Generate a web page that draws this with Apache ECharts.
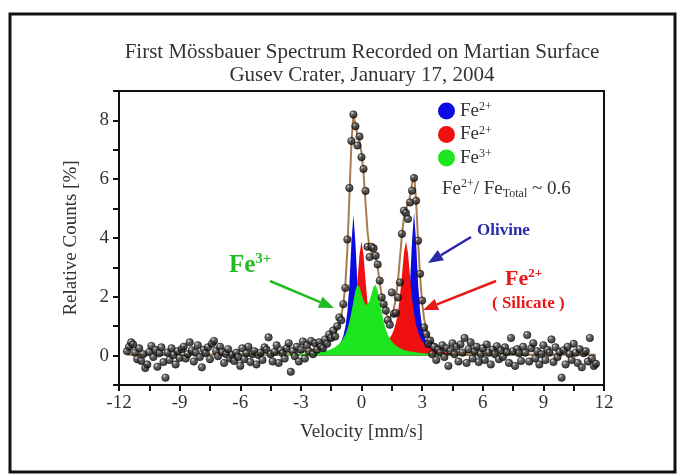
<!DOCTYPE html>
<html>
<head>
<meta charset="utf-8">
<script src="https://cdn.jsdelivr.net/npm/echarts@6/dist/echarts.min.js"></script>
<style>html,body{margin:0;padding:0;background:#fff;}#c{width:678px;height:476px;}</style>
</head>
<body>
<div id="c"></div>
<script>
// ---- data ----
const titleLines = ['First M\u00f6ssbauer Spectrum Recorded on Martian Surface', 'Gusev Crater, January 17, 2004'];
const xTitle = 'Velocity [mm/s]';
const yTitle = 'Relative Counts [%]';

// measured spectrum: [velocity mm/s, relative counts %]
const counts = [
[-11.6,0.15],[-11.5,0.30],[-11.4,0.45],[-11.3,0.38],[-11.2,0.10],[-11.1,-0.12],[-11.0,0.25],
[-10.9,-0.18],[-10.8,0.05],[-10.7,-0.42],[-10.6,-0.30],[-10.5,0.12],[-10.4,0.33],[-10.3,-0.05],[-10.2,0.20],[-10.1,-0.38],[-10.0,0.08],
[-9.9,0.28],[-9.8,-0.22],[-9.7,-0.75],[-9.6,0.10],[-9.5,-0.15],[-9.4,0.25],[-9.3,0.02],[-9.2,-0.30],[-9.1,0.15],[-9.0,-0.08],
[-8.9,0.22],[-8.8,0.30],[-8.7,-0.10],[-8.6,0.05],[-8.5,0.45],[-8.4,0.18],[-8.3,-0.20],[-8.2,0.10],[-8.1,0.35],[-8.0,-0.05],
[-7.9,-0.40],[-7.8,0.20],[-7.7,0.08],[-7.6,0.28],[-7.5,-0.12],[-7.4,0.40],[-7.3,0.50],[-7.2,0.15],[-7.1,-0.02],[-7.0,0.30],
[-6.9,0.12],[-6.8,-0.25],[-6.7,0.05],[-6.6,0.22],[-6.5,-0.10],[-6.4,0.02],[-6.3,-0.18],[-6.2,0.10],[-6.1,-0.05],[-6.0,-0.35],
[-5.9,0.25],[-5.8,-0.12],[-5.7,0.08],[-5.6,0.30],[-5.5,-0.22],[-5.4,0.05],[-5.3,0.15],[-5.2,-0.30],[-5.1,0.02],[-5.0,0.10],
[-4.9,-0.15],[-4.8,0.28],[-4.7,0.20],[-4.6,0.62],[-4.5,0.05],[-4.4,-0.20],[-4.3,0.12],[-4.2,0.35],[-4.1,-0.25],[-4.0,0.18],
[-3.9,0.08],[-3.8,-0.10],[-3.7,0.25],[-3.6,0.42],[-3.5,-0.55],[-3.4,0.15],[-3.3,-0.02],[-3.2,0.30],[-3.1,-0.20],[-3.0,0.20],
[-2.9,0.48],[-2.8,-0.10],[-2.7,0.35],[-2.6,0.15],[-2.5,0.50],[-2.4,0.05],[-2.3,0.42],[-2.2,0.20],[-2.1,0.45],[-2.0,0.30],
[-1.9,0.25],[-1.8,0.55],[-1.7,0.40],[-1.6,0.72],[-1.5,0.60],[-1.4,0.85],[-1.3,0.65],[-1.2,1.00],[-1.1,1.30],[-1.0,1.20],
[-0.9,1.75],[-0.8,2.30],[-0.7,3.95],[-0.6,5.70],[-0.5,7.30],[-0.4,8.20],[-0.3,7.80],[-0.2,7.15],[-0.1,7.45],[0.0,6.75],
[0.1,6.35],[0.2,5.60],[0.3,3.70],[0.4,3.35],[0.5,3.70],[0.6,3.65],[0.7,3.40],[0.8,3.10],[0.9,2.55],[1.0,1.98],
[1.1,1.75],[1.2,1.53],[1.3,1.20],[1.4,1.05],[1.5,2.15],[1.6,1.42],[1.7,1.45],[1.8,1.98],[1.9,2.49],[2.0,4.14],
[2.1,4.93],[2.2,4.85],[2.3,4.65],[2.4,5.21],[2.5,5.61],[2.6,6.04],[2.7,5.27],[2.8,3.91],[2.9,2.78],[3.0,1.87],
[3.1,0.96],[3.2,0.73],[3.3,0.40],[3.4,0.51],[3.5,0.05],[3.6,0.30],[3.7,-0.15],[3.8,0.20],[3.9,0.10],[4.0,0.35],
[4.1,-0.05],[4.2,0.25],[4.3,-0.35],[4.4,0.15],[4.5,0.42],[4.6,0.05],[4.7,0.30],[4.8,-0.20],[4.9,0.38],[5.0,0.10],
[5.1,0.60],[5.2,-0.25],[5.3,0.22],[5.4,0.45],[5.5,-0.10],[5.6,0.15],[5.7,0.30],[5.8,-0.22],[5.9,0.05],[6.0,0.25],
[6.1,-0.15],[6.2,0.38],[6.3,0.10],[6.4,-0.30],[6.5,0.20],[6.6,0.05],[6.7,0.32],[6.8,-0.12],[6.9,0.18],[7.0,-0.05],
[7.1,0.28],[7.2,0.12],[7.3,-0.25],[7.4,0.60],[7.5,0.15],[7.6,-0.35],[7.7,0.22],[7.8,0.08],[7.9,-0.18],[8.0,0.30],
[8.1,0.10],[8.2,0.70],[8.3,-0.20],[8.4,0.25],[8.5,0.42],[8.6,-0.10],[8.7,0.15],[8.8,-0.30],[8.9,0.05],[9.0,0.35],
[9.1,-0.15],[9.2,0.20],[9.3,0.10],[9.4,0.55],[9.5,-0.22],[9.6,0.28],[9.7,-0.05],[9.8,0.12],[9.9,-0.75],[10.0,0.18],
[10.1,-0.30],[10.2,0.30],[10.3,0.05],[10.4,-0.15],[10.5,0.40],[10.6,0.10],[10.7,-0.25],[10.8,0.22],[10.9,-0.40],[11.0,0.08],
[11.1,0.15],[11.2,-0.20],[11.3,0.60],[11.4,-0.10],[11.5,-0.35],[11.6,-0.28]
];

// fitted envelope
const fitVelocity = [-11.6,-8,-6,-4,-3,-2.5,-2,-1.75,-1.5,-1.4,-1.3,-1.2,-1.1,-1.0,-0.9,-0.8,-0.7,-0.6,-0.5,-0.4,-0.3,-0.2,-0.1,0,
0.1,0.2,0.3,0.4,0.5,0.6,0.7,0.8,0.9,1.0,1.1,1.2,1.3,1.4,1.5,1.6,1.7,1.8,1.9,2.0,2.1,2.2,2.3,2.4,2.5,2.6,2.7,2.8,2.9,3.0,
3.1,3.2,3.3,3.4,3.5,3.75,4,4.5,5,6,8,11.6];
const fitCounts = [0.03,0.04,0.05,0.08,0.12,0.18,0.30,0.40,0.55,0.63,0.75,0.90,1.10,1.35,1.75,2.40,3.60,5.40,7.20,8.20,7.85,7.50,7.30,6.90,
6.20,5.20,4.20,3.65,3.50,3.50,3.35,3.00,2.50,2.05,1.70,1.45,1.32,1.30,1.40,1.60,1.95,2.50,3.30,4.10,4.70,5.00,5.15,5.40,5.85,6.15,5.30,3.90,2.70,1.80,
1.25,0.90,0.70,0.55,0.45,0.30,0.22,0.15,0.10,0.07,0.05,0.03];

// sub-spectra (components)
const compVelocity = [-12,-6,-4,-3,-2.5,-2,-1.75,-1.5,-1.4,-1.3,-1.2,-1.1,-1.0,-0.9,-0.8,-0.7,-0.6,-0.5,-0.4,-0.3,-0.2,-0.1,0,
0.1,0.2,0.3,0.4,0.5,0.6,0.7,0.8,0.9,1.0,1.1,1.2,1.3,1.4,1.5,1.6,1.7,1.8,1.9,2.0,2.1,2.2,2.3,2.4,2.5,2.6,2.7,2.8,2.9,3.0,
3.1,3.2,3.3,3.4,3.5,3.75,4,4.5,5,6,12];
const olivineFe2 = [0,0.01,0.02,0.03,0.05,0.08,0.11,0.16,0.20,0.24,0.29,0.37,0.49,0.67,0.97,1.48,2.40,3.83,4.78,3.83,2.41,1.49,0.98,
0.69,0.51,0.40,0.32,0.27,0.23,0.21,0.19,0.18,0.17,0.17,0.17,0.18,0.19,0.21,0.23,0.27,0.32,0.40,0.52,0.70,1.00,1.52,2.44,3.89,4.86,3.89,2.44,1.51,0.98,
0.68,0.50,0.38,0.30,0.24,0.15,0.11,0.06,0.04,0.02,0];
const silicateFe2 = [0,0.01,0.03,0.04,0.06,0.09,0.11,0.15,0.16,0.19,0.21,0.25,0.29,0.35,0.43,0.54,0.69,0.91,1.25,1.76,2.53,3.42,3.89,
3.44,2.55,1.80,1.30,0.98,0.77,0.64,0.56,0.51,0.49,0.48,0.50,0.54,0.61,0.71,0.87,1.11,1.46,1.99,2.71,3.50,3.88,3.49,2.69,1.95,1.42,1.05,0.80,0.63,0.50,
0.41,0.34,0.29,0.25,0.22,0.16,0.12,0.08,0.05,0.03,0];
const ferricFe3 = [0,0.01,0.03,0.06,0.08,0.13,0.16,0.22,0.25,0.29,0.34,0.40,0.48,0.58,0.71,0.90,1.14,1.47,1.85,2.22,2.41,2.34,2.10,
1.87,1.74,1.74,1.87,2.10,2.34,2.41,2.22,1.85,1.47,1.14,0.90,0.71,0.58,0.48,0.40,0.34,0.29,0.25,0.22,0.19,0.17,0.16,0.14,0.13,0.12,0.11,0.10,0.09,0.08,
0.08,0.07,0.07,0.06,0.06,0.05,0.04,0.04,0.03,0.02,0];

const xTicks = [-12,-9,-6,-3,0,3,6,9,12];
const yTickLabels = [0,2,4,6,8];

// ---- chart ----
const FONT = "'Liberation Serif','DejaVu Serif',serif";
const zip = (xs, ys) => xs.map((x, i) => [x, ys[i]]);
const chart = echarts.init(document.getElementById('c'), null, {renderer: 'canvas'});

const legendNames = {
  'Fe2+ olivine': '{a|Fe}{s|2+}',
  'Fe2+ silicate': '{a|Fe}{s|2+}',
  'Fe3+': '{a|Fe}{s|3+}'
};

function arrow(x1, y1, x2, y2, color) {
  const ang = Math.atan2(y2 - y1, x2 - x1);
  const L = 15, W = 6;
  const bx = x2 - L * Math.cos(ang), by = y2 - L * Math.sin(ang);
  const px = -Math.sin(ang) * W, py = Math.cos(ang) * W;
  return [
    {type: 'line', shape: {x1: x1, y1: y1, x2: bx, y2: by}, style: {stroke: color, lineWidth: 2.5}, z: 100},
    {type: 'polygon', shape: {points: [[x2, y2], [bx + px, by + py], [bx - px, by - py]]}, style: {fill: color}, z: 100}
  ];
}

const option = {
  backgroundColor: '#fff',
  animation: false,
  grid: {left: 119, right: 74, top: 91, bottom: 91, show: true, borderColor: '#111', borderWidth: 2, backgroundColor: 'transparent'},
  legend: {
    data: ['Fe2+ olivine', 'Fe2+ silicate', 'Fe3+'],
    orient: 'vertical', left: 438, top: 101, padding: 0,
    itemWidth: 17, itemHeight: 17, itemGap: 4, icon: 'circle',
    formatter: n => legendNames[n],
    textStyle: {
      rich: {
        a: {fontFamily: FONT, fontSize: 19, color: '#333', lineHeight: 20},
        s: {fontFamily: FONT, fontSize: 12, color: '#333', lineHeight: 20, verticalAlign: 'top', padding: [0,0,6,0]}
      }
    }
  },
  xAxis: {
    type: 'value', min: -12, max: 12, interval: 3,
    name: xTitle, nameLocation: 'middle', nameGap: 38,
    nameTextStyle: {fontFamily: FONT, fontSize: 19, color: '#333'},
    axisLine: {show: true, onZero: false, lineStyle: {color: '#111', width: 2}},
    axisTick: {show: true, inside: false, length: 6, lineStyle: {color: '#111', width: 2}},
    minorTick: {show: true, splitNumber: 2, length: 6, lineStyle: {color: '#111', width: 2}},
    axisLabel: {fontFamily: FONT, fontSize: 19, color: '#333', margin: 9,
      formatter: v => xTicks.indexOf(v) >= 0 ? String(v) : ''},
    splitLine: {show: false}
  },
  yAxis: {
    type: 'value', min: -1, max: 9, interval: 1,
    name: yTitle, nameLocation: 'middle', nameGap: 38, nameRotate: 90,
    nameTextStyle: {fontFamily: FONT, fontSize: 19, color: '#333'},
    axisLine: {show: true, onZero: false, lineStyle: {color: '#111', width: 2}},
    axisTick: {show: true, inside: false, length: 6, lineStyle: {color: '#111', width: 2}},
    axisLabel: {fontFamily: FONT, fontSize: 19, color: '#333', margin: 10,
      formatter: v => yTickLabels.indexOf(v) >= 0 ? String(v) : ''},
    splitLine: {show: false}
  },
  series: [
    {name: 'Fe2+ olivine', type: 'line', data: zip(compVelocity, olivineFe2), symbol: 'none', z: 2,
      color: '#0c0ce0', lineStyle: {width: 0}, areaStyle: {color: '#0c0ce0', opacity: 1}, silent: true},
    {name: 'Fe2+ silicate', type: 'line', data: zip(compVelocity, silicateFe2), symbol: 'none', z: 3,
      color: '#f01010', lineStyle: {width: 0}, areaStyle: {color: '#f01010', opacity: 1}, silent: true},
    {name: 'Fe3+', type: 'line', data: zip(compVelocity, ferricFe3), symbol: 'none', z: 4,
      color: '#1ee61e', lineStyle: {width: 0}, areaStyle: {color: '#1ee61e', opacity: 1}, silent: true},
    {name: 'fit', type: 'line', data: zip(fitVelocity, fitCounts), symbol: 'none', z: 5,
      lineStyle: {color: '#a87c4f', width: 2}, silent: true},
    {name: 'data', type: 'scatter', data: counts, symbol: 'circle', symbolSize: 7.5, z: 6,
      itemStyle: {
        color: {type: 'radial', x: 0.35, y: 0.3, r: 0.75,
          colorStops: [{offset: 0, color: '#d8d8d8'}, {offset: 0.3, color: '#444'}, {offset: 1, color: '#000'}]},
        borderColor: '#000', borderWidth: 0.6
      }, silent: true}
  ],
  graphic: [
    {type: 'rect', shape: {x: 10, y: 14, width: 665, height: 458}, style: {fill: 'none', stroke: '#111', lineWidth: 3}, z: 100},
    {type: 'text', style: {x: 362, y: 52, text: titleLines[0], textAlign: 'center', textVerticalAlign: 'middle', font: "21px " + FONT, fill: '#333'}, z: 100},
    {type: 'text', style: {x: 362, y: 75, text: titleLines[1], textAlign: 'center', textVerticalAlign: 'middle', font: "21px " + FONT, fill: '#333'}, z: 100},
    {type: 'text', style: {x: 442, y: 178, text: '{a|Fe}{s|2+}{a|/ Fe}{b|Total}{a| ~ 0.6}',
      rich: {
        a: {fontFamily: FONT, fontSize: 19, fill: '#333', lineHeight: 22},
        s: {fontFamily: FONT, fontSize: 12, fill: '#333', lineHeight: 22, verticalAlign: 'top', padding: [0,0,8,0]},
        b: {fontFamily: FONT, fontSize: 12, fill: '#333', lineHeight: 22, verticalAlign: 'bottom', padding: [8,0,0,0]}
      }}, z: 100},
    {type: 'text', style: {x: 477, y: 222, text: 'Olivine', font: "bold 17px " + FONT, fill: '#2a2aa8'}, z: 100},
    {type: 'text', style: {x: 229, y: 252, text: '{a|Fe}{s|3+}',
      rich: {
        a: {fontFamily: FONT, fontSize: 25, fontWeight: 'bold', fill: '#22bb22', lineHeight: 28},
        s: {fontFamily: FONT, fontSize: 15, fontWeight: 'bold', fill: '#22bb22', lineHeight: 28, verticalAlign: 'top', padding: [0,0,10,0]}
      }}, z: 100},
    {type: 'text', style: {x: 505, y: 267, text: '{a|Fe}{s|2+}',
      rich: {
        a: {fontFamily: FONT, fontSize: 22, fontWeight: 'bold', fill: '#e81818', lineHeight: 24},
        s: {fontFamily: FONT, fontSize: 13, fontWeight: 'bold', fill: '#e81818', lineHeight: 24, verticalAlign: 'top', padding: [0,0,8,0]}
      }}, z: 100},
    {type: 'text', style: {x: 492, y: 295, text: '( Silicate )', font: "bold 17px " + FONT, fill: '#e81818'}, z: 100}
  ].concat(arrow(270, 281, 334, 308, '#22bb22'))
   .concat(arrow(471, 237, 428, 263, '#2a2aa8'))
   .concat(arrow(496, 281, 423, 310, '#e81818'))
};
chart.setOption(option);
</script>
</body>
</html>
